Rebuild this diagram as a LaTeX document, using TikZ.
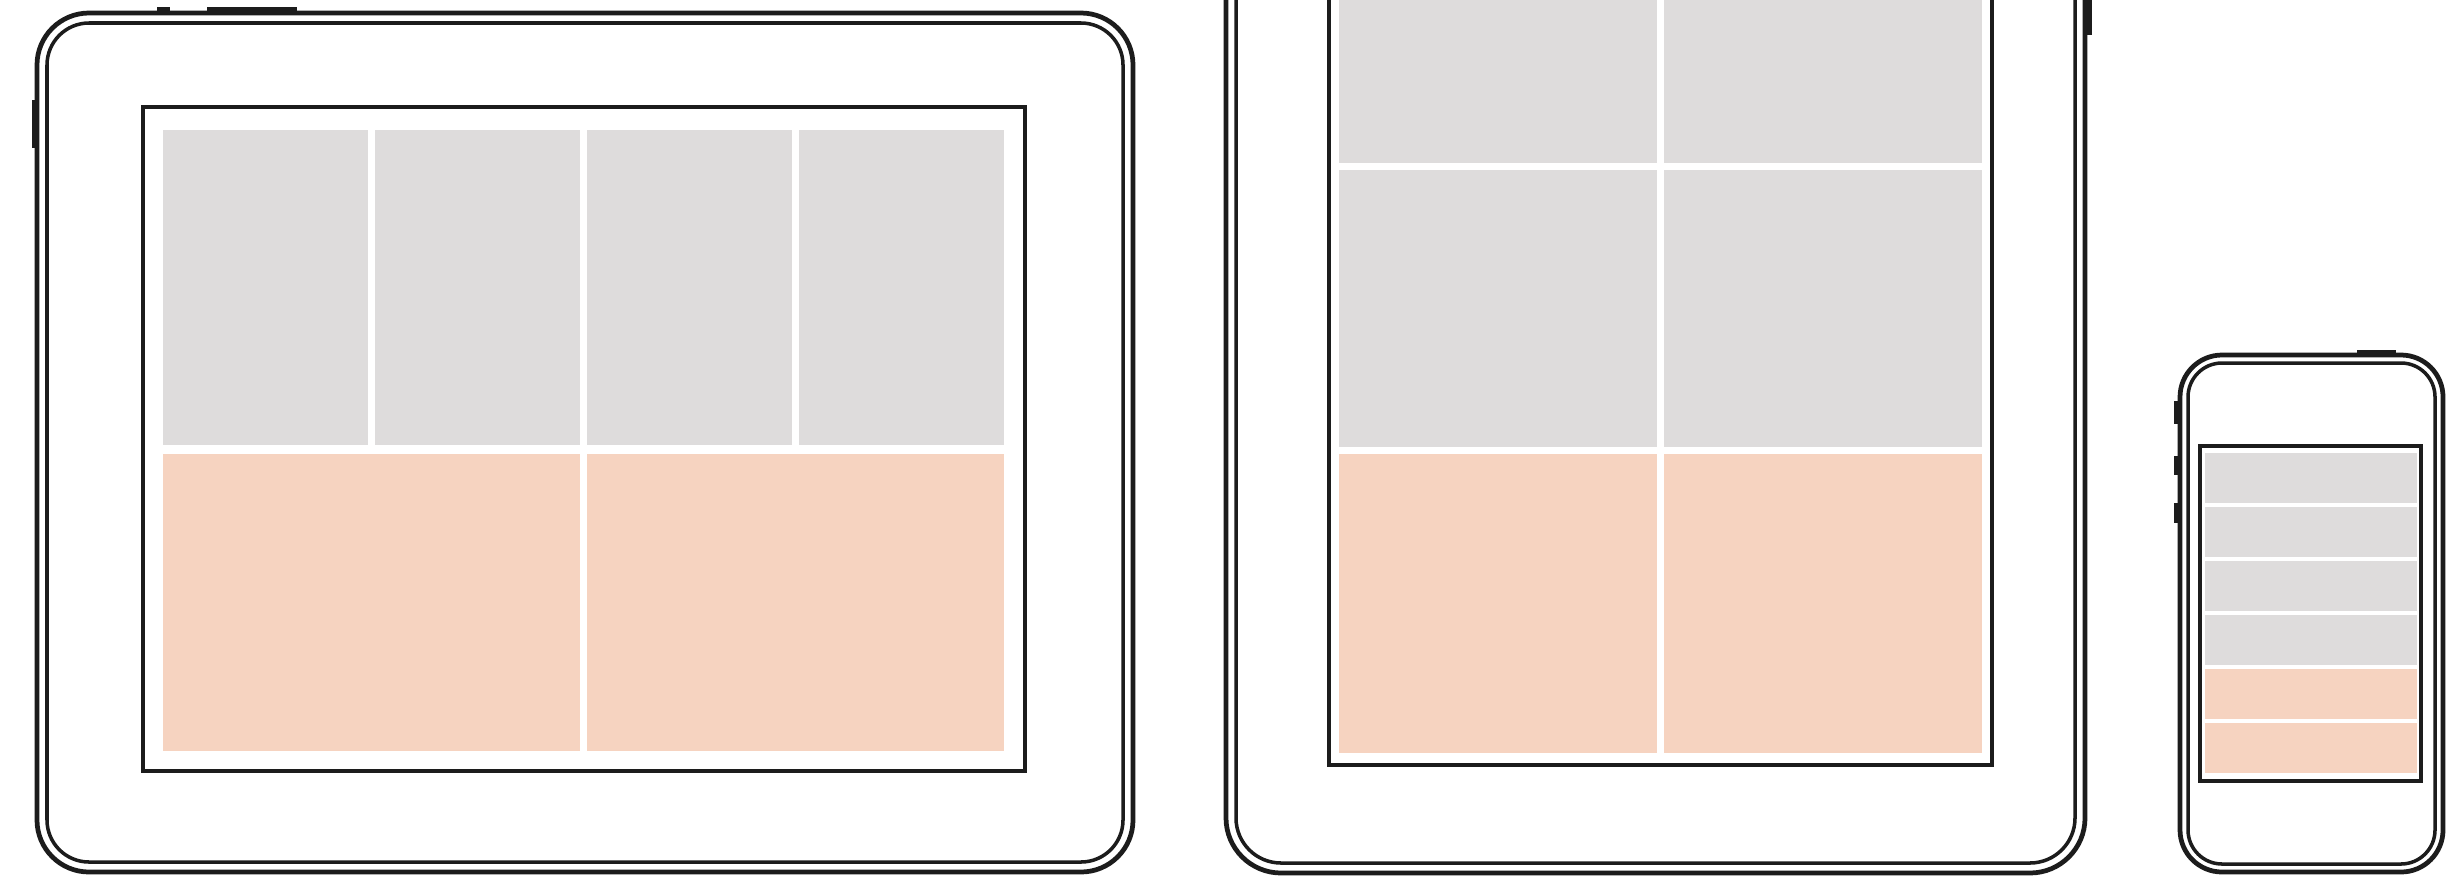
\documentclass[tikz,border=0pt]{standalone}
\usepackage{xcolor}
\usepackage{tikz}
\definecolor{ink}{HTML}{1C1C1C}
\definecolor{tilegray}{HTML}{DEDCDC}
\definecolor{tilepeach}{HTML}{F6D3C0}
\tikzset{
  shell/.style={draw=ink, line width=1.35pt, fill=white},
  bezel/.style={draw=ink, line width=1pt},
  screen/.style={draw=ink, line width=1.3pt, fill=white},
  graytile/.style={fill=tilegray},
  peachtile/.style={fill=tilepeach},
  knob/.style={fill=ink},
}

\begin{document}
\begin{tikzpicture}[x=0.01cm, y=-0.01cm]
  % Three devices side by side: landscape tablet, portrait tablet, phone.
  \clip (0,0) rectangle (2464,878);
  \fill[white] (0,0) rectangle (2464,878);

  % landscape tablet
  \fill[knob] (157,7) rectangle (170,16);
  \fill[knob] (207,7) rectangle (297,16);
  \fill[knob] (32,100) rectangle (40,148);
  \draw[shell, rounded corners=0.52cm] (37,13) rectangle (1133,872);
  \draw[bezel, rounded corners=0.42cm] (47,23) rectangle (1123,862);
  \draw[screen] (143,107) rectangle (1025,771);
  \foreach \x in {163,375,587,799} \fill[graytile] (\x,130) rectangle ++(205,315);
  \foreach \x in {163,587} \fill[peachtile] (\x,454) rectangle ++(417,297);

  % portrait tablet
  \fill[knob] (2080,-10) rectangle (2092,35);
  \draw[shell, rounded corners=0.55cm] (1226,-223) rectangle (2085,873);
  \draw[bezel, rounded corners=0.45cm] (1236,-213) rectangle (2075,863);
  \draw[screen] (1329,-117) rectangle (1992,765);
  \foreach \x in {1339,1664} {
    \fill[graytile] (\x,-110) rectangle ++(318,273);
    \fill[graytile] (\x,170) rectangle ++(318,277);
    \fill[peachtile] (\x,454) rectangle ++(318,299);
  }

  % phone
  \fill[knob] (2357,350) rectangle (2396,358);
  \foreach \y/\h in {401/23,456/19,503/20} \fill[knob] (2174,\y) rectangle ++(8,\h);
  \draw[shell, rounded corners=0.42cm] (2180,355) rectangle (2443,872);
  \draw[bezel, rounded corners=0.34cm] (2188,363) rectangle (2435,864);
  \draw[screen] (2200,446) rectangle (2421,781);
  \foreach \i in {0,...,3} \fill[graytile] (2205,{453+54*\i}) rectangle ++(212,50);
  \foreach \i in {4,5} \fill[peachtile] (2205,{453+54*\i}) rectangle ++(212,50);
\end{tikzpicture}
\end{document}
